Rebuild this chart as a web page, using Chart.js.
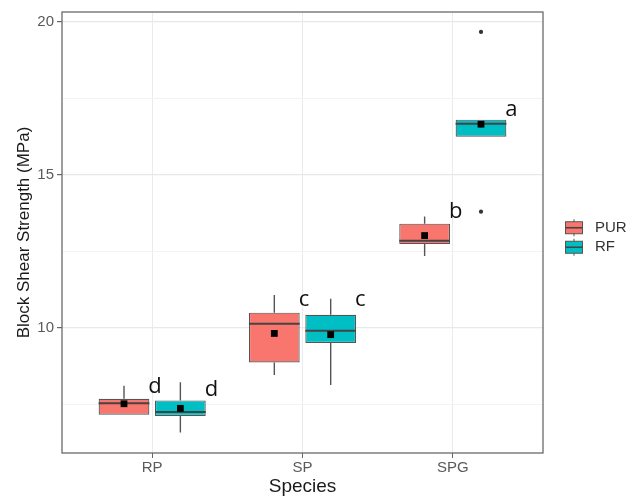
<!DOCTYPE html>
<html><head><meta charset="utf-8">
<script src="https://cdn.jsdelivr.net/npm/chart.js@4"></script>
<style>html,body{margin:0;padding:0;background:#fff}#wrap{width:641px;height:496px}</style>
</head><body><div id="wrap"><canvas id="c" width="641" height="496"></canvas></div>
<script>
// ---- data ----
const categories = ['RP', 'SP', 'SPG'];
const seriesNames = ['PUR', 'RF'];
const purLow    = [7.16, 8.46, 12.35];
const purQ1     = [7.16, 8.87, 12.74];
const purMedian = [7.54, 10.14, 12.85];
const purQ3     = [7.68, 10.50, 13.41];
const purHigh   = [8.11, 11.08, 13.64];
const purMean   = [7.52, 9.82, 13.02];
const rfLow     = [6.58, 8.13, 16.25];
const rfQ1      = [7.12, 9.51, 16.25];
const rfMedian  = [7.25, 9.91, 16.68];
const rfQ3      = [7.63, 10.43, 16.81];
const rfHigh    = [8.22, 10.95, 16.81];
const rfMean    = [7.37, 9.78, 16.66];
const rfOutlierCats   = ['SPG', 'SPG'];
const rfOutlierValues = [19.68, 13.80];
const purLetters = ['d', 'c', 'b'];
const rfLetters  = ['d', 'c', 'a'];
const purLetterValues = [7.86, 10.72, 13.61];
const rfLetterValues  = [7.79, 10.72, 16.92];
const yTickValues  = [7.5, 10, 12.5, 15, 17.5, 20];
const yLabelValues = [10, 15, 20];
const xTitle = 'Species';
const yTitle = 'Block Shear Strength (MPa)';

// ---- styling / layout ----
const COLORS = ['#F8766D', '#00BFC4'];
const DODGE = 0.1875;
const FONT = "'Liberation Sans', Arial, sans-serif";

const series = [
  {low: purLow, q1: purQ1, med: purMedian, q3: purQ3, high: purHigh, mean: purMean, letters: purLetters, letterVals: purLetterValues},
  {low: rfLow, q1: rfQ1, med: rfMedian, q3: rfQ3, high: rfHigh, mean: rfMean, letters: rfLetters, letterVals: rfLetterValues}
];

const datasets = [];
// mean points (drawn on top)
series.forEach((s, g) => {
  datasets.push({
    type: 'scatter', label: seriesNames[g] + ' mean', order: 1,
    data: categories.map((c, i) => ({x: i + 1 + (g === 0 ? -DODGE : DODGE), y: s.mean[i]})),
    pointStyle: 'rect', pointRadius: 4.8, backgroundColor: '#000', borderColor: '#000', borderWidth: 0
  });
});
// outliers
datasets.push({
  type: 'scatter', label: 'RF outliers', order: 1,
  data: rfOutlierCats.map((c, k) => ({x: categories.indexOf(c) + 1 + DODGE, y: rfOutlierValues[k]})),
  pointStyle: 'circle', pointRadius: 2.1, backgroundColor: '#333', borderWidth: 0
});
// boxes
series.forEach((s, g) => {
  datasets.push({
    type: 'bar', label: seriesNames[g], order: 2, boxSeries: g,
    data: categories.map((c, i) => ({x: i + 1, y: [s.q1[i], s.q3[i]]})),
    backgroundColor: COLORS[g], borderColor: '#555', borderWidth: 1.2, borderSkipped: false,
    categoryPercentage: 0.75, barPercentage: 0.9, grouped: true
  });
});

function barEl(chart, g, i) {
  const idx = chart.data.datasets.findIndex(d => d.boxSeries === g);
  return chart.getDatasetMeta(idx).data[i];
}

const boxPlugin = {
  id: 'boxPlugin',
  beforeDatasetsDraw(chart) {
    const {ctx, scales: {y}} = chart;
    ctx.save();
    ctx.strokeStyle = '#555'; ctx.lineWidth = 1.4;
    series.forEach((s, g) => categories.forEach((c, i) => {
      const el = barEl(chart, g, i);
      ctx.beginPath();
      ctx.moveTo(el.x, y.getPixelForValue(s.high[i]));
      ctx.lineTo(el.x, y.getPixelForValue(s.q3[i]));
      ctx.moveTo(el.x, y.getPixelForValue(s.q1[i]));
      ctx.lineTo(el.x, y.getPixelForValue(s.low[i]));
      ctx.stroke();
    }));
    ctx.restore();
  },
  afterDatasetDraw(chart, args) {
    const ds = chart.data.datasets[args.index];
    if (ds.boxSeries === undefined) return;
    const g = ds.boxSeries, s = series[g];
    const {ctx, scales: {y}} = chart;
    ctx.save();
    ctx.strokeStyle = '#444'; ctx.lineWidth = 2;
    categories.forEach((c, i) => {
      const el = barEl(chart, g, i);
      const py = y.getPixelForValue(s.med[i]);
      ctx.beginPath();
      ctx.moveTo(el.x - el.width / 2, py);
      ctx.lineTo(el.x + el.width / 2, py);
      ctx.stroke();
    });
    ctx.restore();
  },
  afterDraw(chart) {
    const {ctx, chartArea: a, scales: {y}} = chart;
    ctx.save();
    // panel border
    ctx.strokeStyle = '#6a6a6a'; ctx.lineWidth = 1.3;
    ctx.strokeRect(a.left, a.top, a.right - a.left, a.bottom - a.top);
    // significance letters
    ctx.fillStyle = '#111';
    ctx.font = "22px 'Open Sans', Lato, sans-serif";
    ctx.textAlign = 'left'; ctx.textBaseline = 'alphabetic';
    series.forEach((s, g) => categories.forEach((c, i) => {
      const el = barEl(chart, g, i);
      ctx.fillText(s.letters[i], el.x + el.width / 2 - 1, y.getPixelForValue(s.letterVals[i]));
    }));
    // legend
    const kx = a.right + 22;
    const mid = (a.top + a.bottom) / 2 + 5;
    seriesNames.forEach((name, g) => {
      const cy = mid + (g === 0 ? -9.75 : 9.75);
      ctx.strokeStyle = '#555'; ctx.lineWidth = 1;
      ctx.beginPath(); ctx.moveTo(kx + 9, cy - 8.5); ctx.lineTo(kx + 9, cy + 8.5); ctx.stroke();
      ctx.fillStyle = COLORS[g];
      ctx.fillRect(kx + 0.5, cy - 6, 17, 12);
      ctx.strokeRect(kx + 0.5, cy - 6, 17, 12);
      ctx.lineWidth = 1.6; ctx.strokeStyle = '#444';
      ctx.beginPath(); ctx.moveTo(kx + 0.5, cy); ctx.lineTo(kx + 17.5, cy); ctx.stroke();
      ctx.fillStyle = '#333';
      ctx.font = '15px ' + FONT; ctx.textBaseline = 'middle';
      ctx.fillText(name, kx + 30, cy);
    });
    ctx.restore();
  }
};

new Chart(document.getElementById('c'), {
  type: 'bar',
  data: {datasets},
  options: {
    responsive: false, animation: false,
    layout: {padding: {left: 0, right: 98, top: 7, bottom: 0}},
    plugins: {legend: {display: false}, tooltip: {enabled: false}},
    scales: {
      x: {
        type: 'linear', min: 0.4, max: 3.6, offset: false,
        afterBuildTicks: sc => { sc.ticks = categories.map((c, i) => ({value: i + 1})); },
        afterFit: sc => { sc.height = 43; },
        ticks: {
          callback: v => categories[Math.round(v) - 1] ?? '',
          color: '#5a5a5a', font: {family: FONT, size: 15}, padding: 1, maxRotation: 0, autoSkip: false
        },
        grid: {color: '#ebebeb', lineWidth: 1, tickLength: 5, tickColor: '#666', offset: false},
        border: {display: false},
        title: {display: true, text: xTitle, color: '#1a1a1a', font: {family: FONT, size: 19}, padding: {top: 0, bottom: -2}}
      },
      y: {
        type: 'linear', min: 5.91, max: 20.33,
        afterBuildTicks: sc => { sc.ticks = yTickValues.map(v => ({value: v})); },
        afterFit: sc => { sc.width = 62; },
        ticks: {
          callback: v => yLabelValues.includes(v) ? String(v) : '',
          color: '#5a5a5a', font: {family: FONT, size: 15}, padding: 3, autoSkip: false
        },
        grid: {
          color: c => (c.tick && yLabelValues.includes(c.tick.value)) ? '#e8e8e8' : '#f3f3f3',
          lineWidth: c => (c.tick && yLabelValues.includes(c.tick.value)) ? 1.2 : 1,
          tickLength: 5,
          tickColor: c => (c.tick && yLabelValues.includes(c.tick.value)) ? '#666' : 'rgba(0,0,0,0)'
        },
        border: {display: false},
        title: {display: true, text: yTitle, color: '#1a1a1a', font: {family: FONT, size: 17}, padding: {top: 14, bottom: 0}}
      }
    }
  },
  plugins: [boxPlugin]
});
</script>
</body></html>
